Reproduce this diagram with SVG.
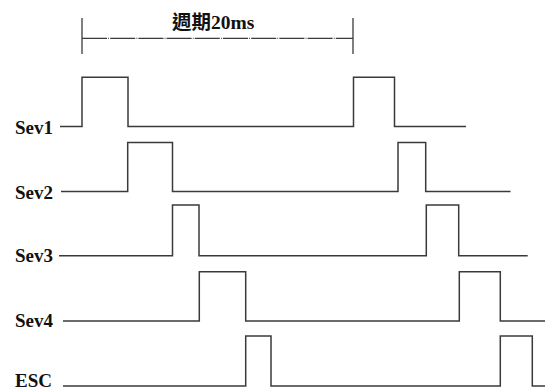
<svg xmlns="http://www.w3.org/2000/svg" width="545" height="391" viewBox="0 0 545 391">
<style>
.sig{fill:none;stroke:#3a3a3a;stroke-width:1.5;stroke-linejoin:miter}
.lbl{font-family:"Liberation Serif","Times New Roman",serif;font-weight:bold;font-size:19px;fill:#111}
.ttl{font-family:"Liberation Serif","Noto Sans CJK TC",serif;font-weight:bold;font-size:19.5px;fill:#111}
.tick{stroke:#3a3a3a;stroke-width:1.3;fill:none}
.dash{stroke:#3a3a3a;stroke-width:1.3;fill:none;stroke-dasharray:25 1.2 0.8 1.2}
</style>
<rect width="545" height="391" fill="#fff"/>
<g id="period">
<line class="tick" x1="82" y1="18" x2="82" y2="54"/>
<line class="tick" x1="353" y1="18" x2="353" y2="54"/>
<line class="dash" x1="82" y1="38.3" x2="353" y2="38.3"/>
<text class="ttl" x="172" y="28.5">週期20ms</text>
</g>
<g id="connectors">
<g id="sev1">
<text class="lbl" x="15" y="134">Sev1</text>
<polyline class="sig" points="60,126.5 82,126.5 82,77.3 128,77.3 128,126.5 353.5,126.5 353.5,77.3 394.5,77.3 394.5,126.5 466,126.5"/>
</g>
<g id="sev2">
<text class="lbl" x="15" y="199">Sev2</text>
<polyline class="sig" points="61,191.5 127.7,191.5 127.7,142.5 172.5,142.5 172.5,191.5 398,191.5 398,142.5 425.7,142.5 425.7,191.5 510.5,191.5"/>
</g>
<g id="sev3">
<text class="lbl" x="15" y="262">Sev3</text>
<polyline class="sig" points="59,255.7 172.5,255.7 172.5,205 199,205 199,255.7 426.3,255.7 426.3,205 458.7,205 458.7,255.7 527.7,255.7"/>
</g>
<g id="sev4">
<text class="lbl" x="15" y="327">Sev4</text>
<polyline class="sig" points="63,321 199.3,321 199.3,271.7 245.7,271.7 245.7,321 459.3,321 459.3,271.7 500.3,271.7 500.3,321 546,321"/>
</g>
<g id="esc">
<text class="lbl" x="15" y="387">ESC</text>
<polyline class="sig" points="63,386 245.7,386 245.7,336 271,336 271,386 500.3,386 500.3,336 532.3,336 532.3,386 546,386"/>
</g>
</g>
</svg>
